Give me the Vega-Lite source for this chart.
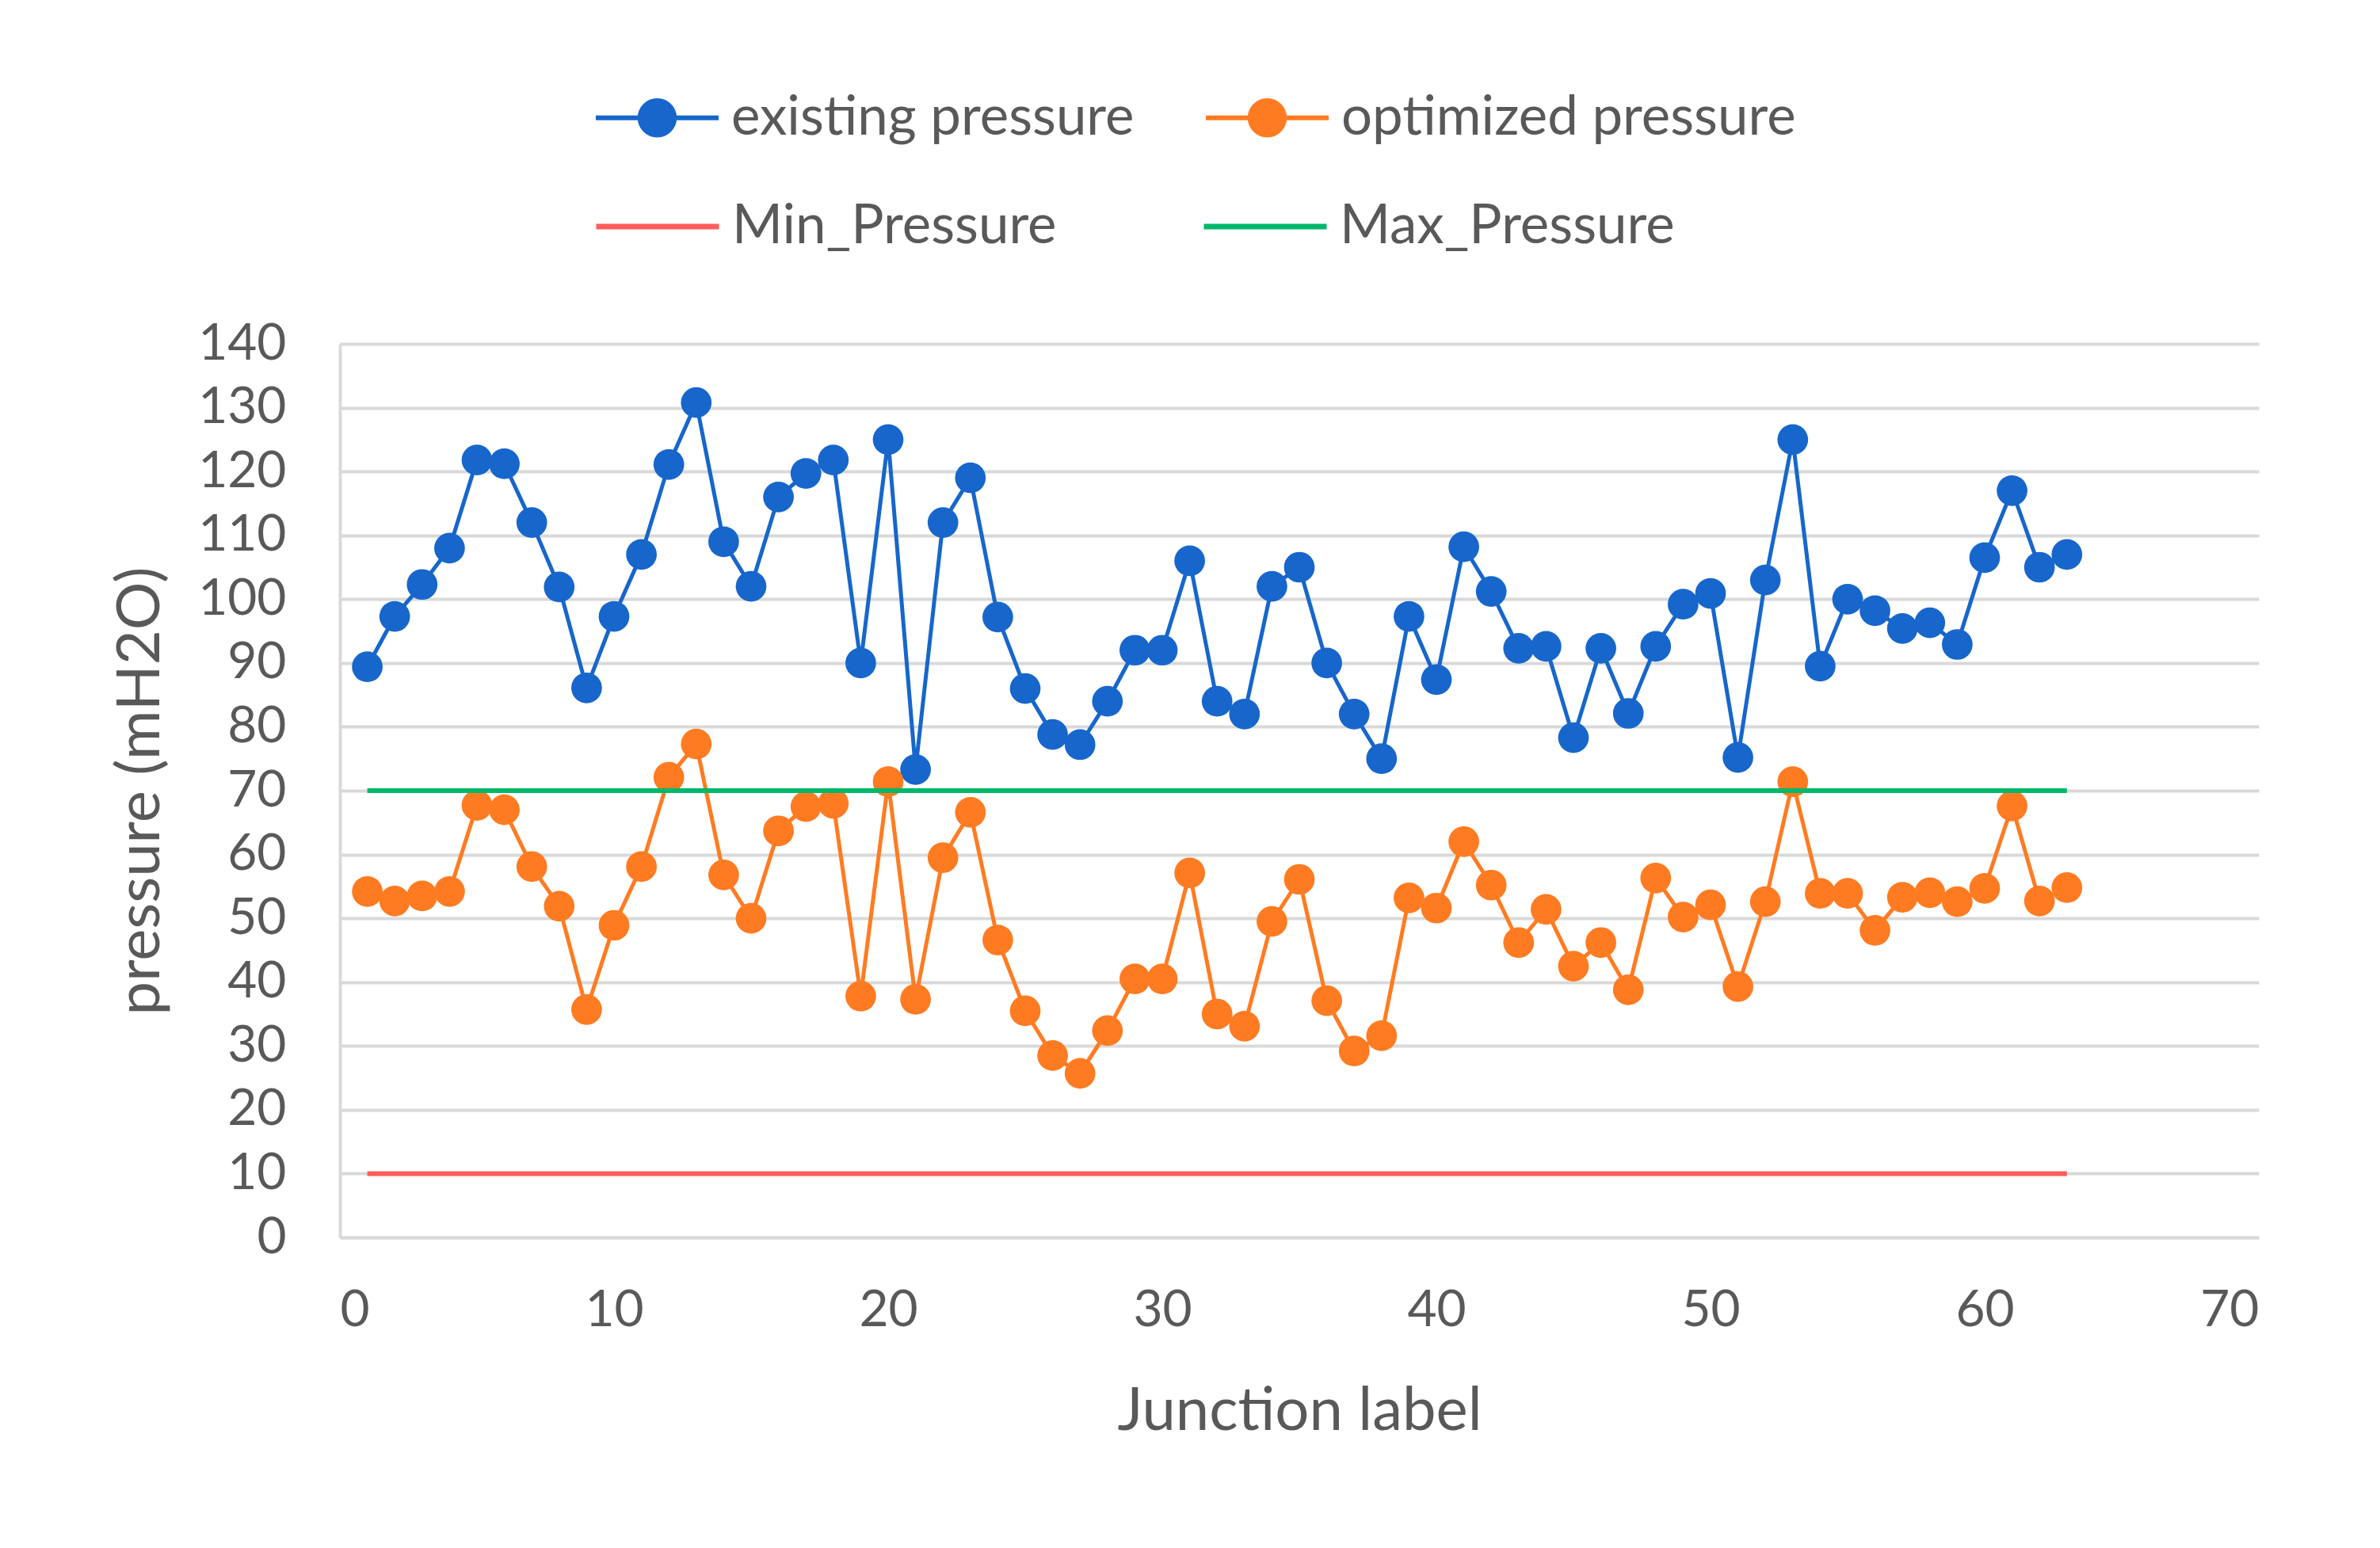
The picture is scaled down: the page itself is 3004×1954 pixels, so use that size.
{
  "$schema": "https://vega.github.io/schema/vega-lite/v6.json",
  "autosize": "none",
  "width": 2422,
  "height": 1128,
  "padding": {"left": 429, "top": 434, "right": 153, "bottom": 392},
  "background": "white",
  "config": {
    "view": {"stroke": null},
    "font": "Lato",
    "axis": {"labelFont": "Lato", "titleFont": "Lato", "labelColor": "#595959", "titleColor": "#595959", "labelFontSize": 64, "titleFontSize": 76, "titleFontWeight": "normal", "ticks": false, "domainColor": "#d9d9d9", "domainWidth": 4, "gridColor": "#d9d9d9", "gridWidth": 4},
    "legend": {"labelFont": "Lato", "labelColor": "#595959", "labelFontSize": 69, "padding": 0}
  },
  "datasets": {
    "pts": [
      {"Junction":1,"series":"existing pressure","pressure":89.4},{"Junction":2,"series":"existing pressure","pressure":97.3},{"Junction":3,"series":"existing pressure","pressure":102.3},{"Junction":4,"series":"existing pressure","pressure":108},{"Junction":5,"series":"existing pressure","pressure":121.8},{"Junction":6,"series":"existing pressure","pressure":121.2},{"Junction":7,"series":"existing pressure","pressure":112},{"Junction":8,"series":"existing pressure","pressure":101.9},{"Junction":9,"series":"existing pressure","pressure":86.1},{"Junction":10,"series":"existing pressure","pressure":97.3},
      {"Junction":11,"series":"existing pressure","pressure":107},{"Junction":12,"series":"existing pressure","pressure":121.1},{"Junction":13,"series":"existing pressure","pressure":130.8},{"Junction":14,"series":"existing pressure","pressure":109},{"Junction":15,"series":"existing pressure","pressure":102},{"Junction":16,"series":"existing pressure","pressure":116},{"Junction":17,"series":"existing pressure","pressure":119.7},{"Junction":18,"series":"existing pressure","pressure":121.8},{"Junction":19,"series":"existing pressure","pressure":90},{"Junction":20,"series":"existing pressure","pressure":125},
      {"Junction":21,"series":"existing pressure","pressure":73.3},{"Junction":22,"series":"existing pressure","pressure":112},{"Junction":23,"series":"existing pressure","pressure":119},{"Junction":24,"series":"existing pressure","pressure":97.2},{"Junction":25,"series":"existing pressure","pressure":86},{"Junction":26,"series":"existing pressure","pressure":78.8},{"Junction":27,"series":"existing pressure","pressure":77.2},{"Junction":28,"series":"existing pressure","pressure":84},{"Junction":29,"series":"existing pressure","pressure":92},{"Junction":30,"series":"existing pressure","pressure":92},
      {"Junction":31,"series":"existing pressure","pressure":106},{"Junction":32,"series":"existing pressure","pressure":84},{"Junction":33,"series":"existing pressure","pressure":82},{"Junction":34,"series":"existing pressure","pressure":102},{"Junction":35,"series":"existing pressure","pressure":105},{"Junction":36,"series":"existing pressure","pressure":90},{"Junction":37,"series":"existing pressure","pressure":82},{"Junction":38,"series":"existing pressure","pressure":75},{"Junction":39,"series":"existing pressure","pressure":97.3},{"Junction":40,"series":"existing pressure","pressure":87.4},
      {"Junction":41,"series":"existing pressure","pressure":108.2},{"Junction":42,"series":"existing pressure","pressure":101.2},{"Junction":43,"series":"existing pressure","pressure":92.3},{"Junction":44,"series":"existing pressure","pressure":92.6},{"Junction":45,"series":"existing pressure","pressure":78.3},{"Junction":46,"series":"existing pressure","pressure":92.3},{"Junction":47,"series":"existing pressure","pressure":82.1},{"Junction":48,"series":"existing pressure","pressure":92.6},{"Junction":49,"series":"existing pressure","pressure":99.2},{"Junction":50,"series":"existing pressure","pressure":100.9},
      {"Junction":51,"series":"existing pressure","pressure":75.2},{"Junction":52,"series":"existing pressure","pressure":103},{"Junction":53,"series":"existing pressure","pressure":125},{"Junction":54,"series":"existing pressure","pressure":89.5},{"Junction":55,"series":"existing pressure","pressure":100},{"Junction":56,"series":"existing pressure","pressure":98.2},{"Junction":57,"series":"existing pressure","pressure":95.4},{"Junction":58,"series":"existing pressure","pressure":96.3},{"Junction":59,"series":"existing pressure","pressure":92.9},{"Junction":60,"series":"existing pressure","pressure":106.5},
      {"Junction":61,"series":"existing pressure","pressure":117},{"Junction":62,"series":"existing pressure","pressure":105},{"Junction":63,"series":"existing pressure","pressure":107},
      {"Junction":1,"series":"optimized pressure","pressure":54.2},{"Junction":2,"series":"optimized pressure","pressure":52.7},{"Junction":3,"series":"optimized pressure","pressure":53.5},{"Junction":4,"series":"optimized pressure","pressure":54.2},{"Junction":5,"series":"optimized pressure","pressure":67.7},{"Junction":6,"series":"optimized pressure","pressure":67},{"Junction":7,"series":"optimized pressure","pressure":58.1},{"Junction":8,"series":"optimized pressure","pressure":51.9},{"Junction":9,"series":"optimized pressure","pressure":35.7},{"Junction":10,"series":"optimized pressure","pressure":48.9},
      {"Junction":11,"series":"optimized pressure","pressure":58.1},{"Junction":12,"series":"optimized pressure","pressure":72.1},{"Junction":13,"series":"optimized pressure","pressure":77.3},{"Junction":14,"series":"optimized pressure","pressure":56.8},{"Junction":15,"series":"optimized pressure","pressure":50},{"Junction":16,"series":"optimized pressure","pressure":63.7},{"Junction":17,"series":"optimized pressure","pressure":67.5},{"Junction":18,"series":"optimized pressure","pressure":68},{"Junction":19,"series":"optimized pressure","pressure":37.8},{"Junction":20,"series":"optimized pressure","pressure":71.4},
      {"Junction":21,"series":"optimized pressure","pressure":37.3},{"Junction":22,"series":"optimized pressure","pressure":59.5},{"Junction":23,"series":"optimized pressure","pressure":66.6},{"Junction":24,"series":"optimized pressure","pressure":46.6},{"Junction":25,"series":"optimized pressure","pressure":35.5},{"Junction":26,"series":"optimized pressure","pressure":28.5},{"Junction":27,"series":"optimized pressure","pressure":25.7},{"Junction":28,"series":"optimized pressure","pressure":32.4},{"Junction":29,"series":"optimized pressure","pressure":40.5},{"Junction":30,"series":"optimized pressure","pressure":40.5},
      {"Junction":31,"series":"optimized pressure","pressure":57.1},{"Junction":32,"series":"optimized pressure","pressure":35},{"Junction":33,"series":"optimized pressure","pressure":33.1},{"Junction":34,"series":"optimized pressure","pressure":49.5},{"Junction":35,"series":"optimized pressure","pressure":56.1},{"Junction":36,"series":"optimized pressure","pressure":37.1},{"Junction":37,"series":"optimized pressure","pressure":29.2},{"Junction":38,"series":"optimized pressure","pressure":31.6},{"Junction":39,"series":"optimized pressure","pressure":53.2},{"Junction":40,"series":"optimized pressure","pressure":51.6},
      {"Junction":41,"series":"optimized pressure","pressure":62},{"Junction":42,"series":"optimized pressure","pressure":55.2},{"Junction":43,"series":"optimized pressure","pressure":46.2},{"Junction":44,"series":"optimized pressure","pressure":51.4},{"Junction":45,"series":"optimized pressure","pressure":42.5},{"Junction":46,"series":"optimized pressure","pressure":46.2},{"Junction":47,"series":"optimized pressure","pressure":38.8},{"Junction":48,"series":"optimized pressure","pressure":56.3},{"Junction":49,"series":"optimized pressure","pressure":50.2},{"Junction":50,"series":"optimized pressure","pressure":52.1},
      {"Junction":51,"series":"optimized pressure","pressure":39.3},{"Junction":52,"series":"optimized pressure","pressure":52.6},{"Junction":53,"series":"optimized pressure","pressure":71.4},{"Junction":54,"series":"optimized pressure","pressure":53.9},{"Junction":55,"series":"optimized pressure","pressure":53.9},{"Junction":56,"series":"optimized pressure","pressure":48.1},{"Junction":57,"series":"optimized pressure","pressure":53.3},{"Junction":58,"series":"optimized pressure","pressure":54},{"Junction":59,"series":"optimized pressure","pressure":52.6},{"Junction":60,"series":"optimized pressure","pressure":54.7},
      {"Junction":61,"series":"optimized pressure","pressure":67.6},{"Junction":62,"series":"optimized pressure","pressure":52.7},{"Junction":63,"series":"optimized pressure","pressure":54.8}
    ],
    "lims": [
      {"limit":"Min_Pressure","from":1,"to":63,"pressure":10},
      {"limit":"Max_Pressure","from":1,"to":63,"pressure":70}
    ]
  },
  "layer": [
    {
      "data": {"name": "pts"},
      "mark": {"type": "line", "strokeWidth": 5},
      "encoding": {
        "x": {"field": "Junction", "type": "quantitative", "scale": {"domain": [0, 70], "nice": false}, "axis": {"values": [0,10,20,30,40,50,60,70], "title": "Junction label", "grid": false, "labelPadding": 60, "titlePadding": 58}},
        "y": {"field": "pressure", "type": "quantitative", "scale": {"domain": [0, 140], "nice": false}, "axis": {"values": [0,10,20,30,40,50,60,70,80,90,100,110,120,130,140], "title": "pressure (mH2O)", "grid": true, "labelPadding": 68, "titlePadding": 33}},
        "color": {"field": "series", "type": "nominal", "scale": {"domain": ["existing pressure", "optimized pressure"], "range": ["#1766CB", "#FF7B22"]},
          "legend": {"title": null, "orient": "none", "legendX": 320, "legendY": -366, "direction": "horizontal", "columns": 2, "columnPadding": 78, "symbolType": "M-1,0L1,0M-0.28,0A0.28,0.28,0,1,1,0.28,0A0.28,0.28,0,1,1,-0.28,0Z", "symbolSize": 24025, "symbolStrokeWidth": 6, "labelOffset": 13, "labelLimit": 1000}}
      }
    },
    {
      "data": {"name": "pts"},
      "mark": {"type": "point", "filled": true, "opacity": 1, "size": 1500, "shape": "circle"},
      "encoding": {
        "x": {"field": "Junction", "type": "quantitative"},
        "y": {"field": "pressure", "type": "quantitative"},
        "color": {"field": "series", "type": "nominal"}
      }
    },
    {
      "data": {"name": "lims"},
      "mark": {"type": "rule", "strokeWidth": 6},
      "encoding": {
        "x": {"field": "from", "type": "quantitative"},
        "x2": {"field": "to"},
        "y": {"field": "pressure", "type": "quantitative"},
        "stroke": {"field": "limit", "type": "nominal", "scale": {"domain": ["Min_Pressure", "Max_Pressure"], "range": ["#FF5C5C", "#00B86B"]},
          "legend": {"title": null, "orient": "none", "legendX": 320, "legendY": -229, "direction": "horizontal", "columns": 2, "columnPadding": 171, "symbolType": "stroke", "symbolSize": 24025, "symbolStrokeWidth": 7, "labelOffset": 13, "labelLimit": 1000}}
      }
    }
  ]
}
